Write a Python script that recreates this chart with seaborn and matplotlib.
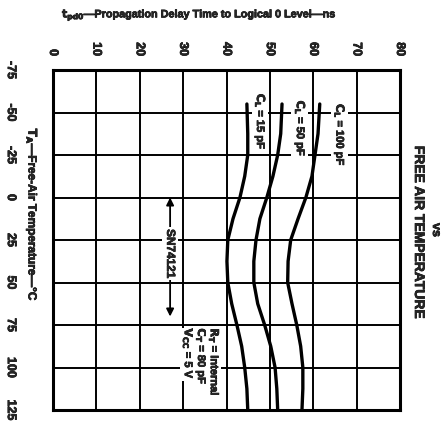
import matplotlib
matplotlib.use("Agg")
import matplotlib.pyplot as plt
import matplotlib.patheffects as pe
import seaborn as sns
import pandas as pd

temps = [-55, -37.5, -25, -12.5, 0, 12.5, 25, 37.5, 50, 62.5, 75, 87.5, 100, 112.5, 125]
delay_15pf = [44.7, 44.9, 44.9, 44.2, 43.1, 41.5, 40.3, 40.1, 40.3, 41.2, 42.4, 43.5, 44.2, 44.7, 44.9]
delay_50pf = [52.8, 52.5, 51.8, 50.7, 49.3, 47.7, 46.8, 46.3, 46.3, 47.2, 48.8, 50.2, 51.2, 51.6, 51.8]
delay_100pf = [61.5, 61.1, 60.4, 59.7, 58.3, 56.5, 54.8, 54.2, 54.1, 55.1, 56.2, 57.1, 57.6, 57.6, 57.4]
loads = ["15 pF", "50 pF", "100 pF"]

temp_ticks = [-75, -50, -25, 0, 25, 50, 75, 100, 125]
delay_ticks = [0, 10, 20, 30, 40, 50, 60, 70, 80]

df = pd.concat([
    pd.DataFrame({"temp": temps, "delay": d, "load": name})
    for name, d in zip(loads, [delay_15pf, delay_50pf, delay_100pf])
])

sns.set_style("white")
plt.rcParams["font.family"] = ["Liberation Sans Narrow", "Liberation Sans", "DejaVu Sans"]
plt.rcParams["font.weight"] = "bold"
plt.rcParams["mathtext.fontset"] = "custom"
plt.rcParams["mathtext.rm"] = "Liberation Sans Narrow:bold"
plt.rcParams["mathtext.it"] = "Liberation Sans Narrow:bold"
plt.rcParams["mathtext.bf"] = "Liberation Sans Narrow:bold"

# the scan is printed very heavy, thicken the glyphs a bit
heavy = [pe.withStroke(linewidth=0.5, foreground="black")]

fig = plt.figure(figsize=(4.45, 4.25), dpi=100)
ax = fig.add_axes([53 / 445, 15 / 425, 347 / 445, 340 / 425])

sns.lineplot(data=df, x="delay", y="temp", hue="load", palette=["black"] * 3,
             orient="y", estimator=None, legend=False, lw=2.4, ax=ax, zorder=4)

ax.set_xlim(0, 80)
ax.set_ylim(125, -75)
ax.set_xticks(delay_ticks)
ax.set_yticks(temp_ticks)
ax.xaxis.tick_top()
ax.tick_params(length=0)
ax.tick_params(axis="x", pad=10)
ax.tick_params(axis="y", pad=26)
ax.set_xticklabels([str(v) for v in delay_ticks], rotation=-90, fontsize=9, fontweight="bold")
ax.set_yticklabels([str(v) for v in temp_ticks], rotation=-90, fontsize=9,
                   fontweight="bold", va="center")
for t in ax.get_xticklabels() + ax.get_yticklabels():
    t.set_path_effects(heavy)
ax.set_xlabel("")
ax.set_ylabel("")
ax.grid(True, color="black", lw=1.4)
for s in ax.spines.values():
    s.set_linewidth(2.2)
    s.set_color("black")

# curve labels (white boxes hide the grid behind them)
label_x = [47.7, 56.9, 66.0]
label_t = [-61, -57, -55]
for name, lx, lt in zip(loads, label_x, label_t):
    ax.text(lx, lt, r"$C_L$ = " + name, rotation=-90, rotation_mode="anchor",
            ha="left", va="center", fontsize=8, zorder=3, path_effects=heavy,
            bbox=dict(facecolor="white", edgecolor="none", pad=1))

# SN74121 range arrow
ax.annotate("", xy=(27, 70), xytext=(27, 0),
            arrowprops=dict(arrowstyle="<|-|>", color="black", lw=1.3,
                            mutation_scale=11, shrinkA=0, shrinkB=0), zorder=3)
ax.text(27, 33, "SN74121", rotation=-90, ha="center", va="center", fontsize=8.5,
        zorder=3, path_effects=heavy,
        bbox=dict(facecolor="white", edgecolor="none", pad=1.5))

# test conditions
cond_x = [31.1, 34.1, 37.1]
cond_text = [r"$V_{CC}$ = 5 V", r"$C_T$ = 80 pF", r"$R_T$ = Internal"]
for cx, ct in zip(cond_x, cond_text):
    ax.text(cx, 77, ct, rotation=-90, rotation_mode="anchor", ha="left",
            va="center", fontsize=8, zorder=3, path_effects=heavy,
            bbox=dict(facecolor="white", edgecolor="none", pad=0.5))

fig.text(62 / 445, 1 - 15 / 425, r"$t_{pd0}$—Propagation Delay Time to Logical 0 Level—ns",
         ha="left", va="center", fontsize=7.8, path_effects=heavy)
fig.text(32 / 445, 1 - 215 / 425, r"$T_A$—Free-Air Temperature—°C", rotation=-90,
         ha="center", va="center", fontsize=8.5, path_effects=heavy)
fig.text(419 / 445, 1 - 232 / 425, "FREE AIR TEMPERATURE", rotation=-90,
         ha="center", va="center", fontsize=10, path_effects=heavy)
fig.text(436 / 445, 1 - 230 / 425, "vs", rotation=-90,
         ha="center", va="center", fontsize=9, path_effects=heavy)

fig.savefig("out.png", dpi=100)
